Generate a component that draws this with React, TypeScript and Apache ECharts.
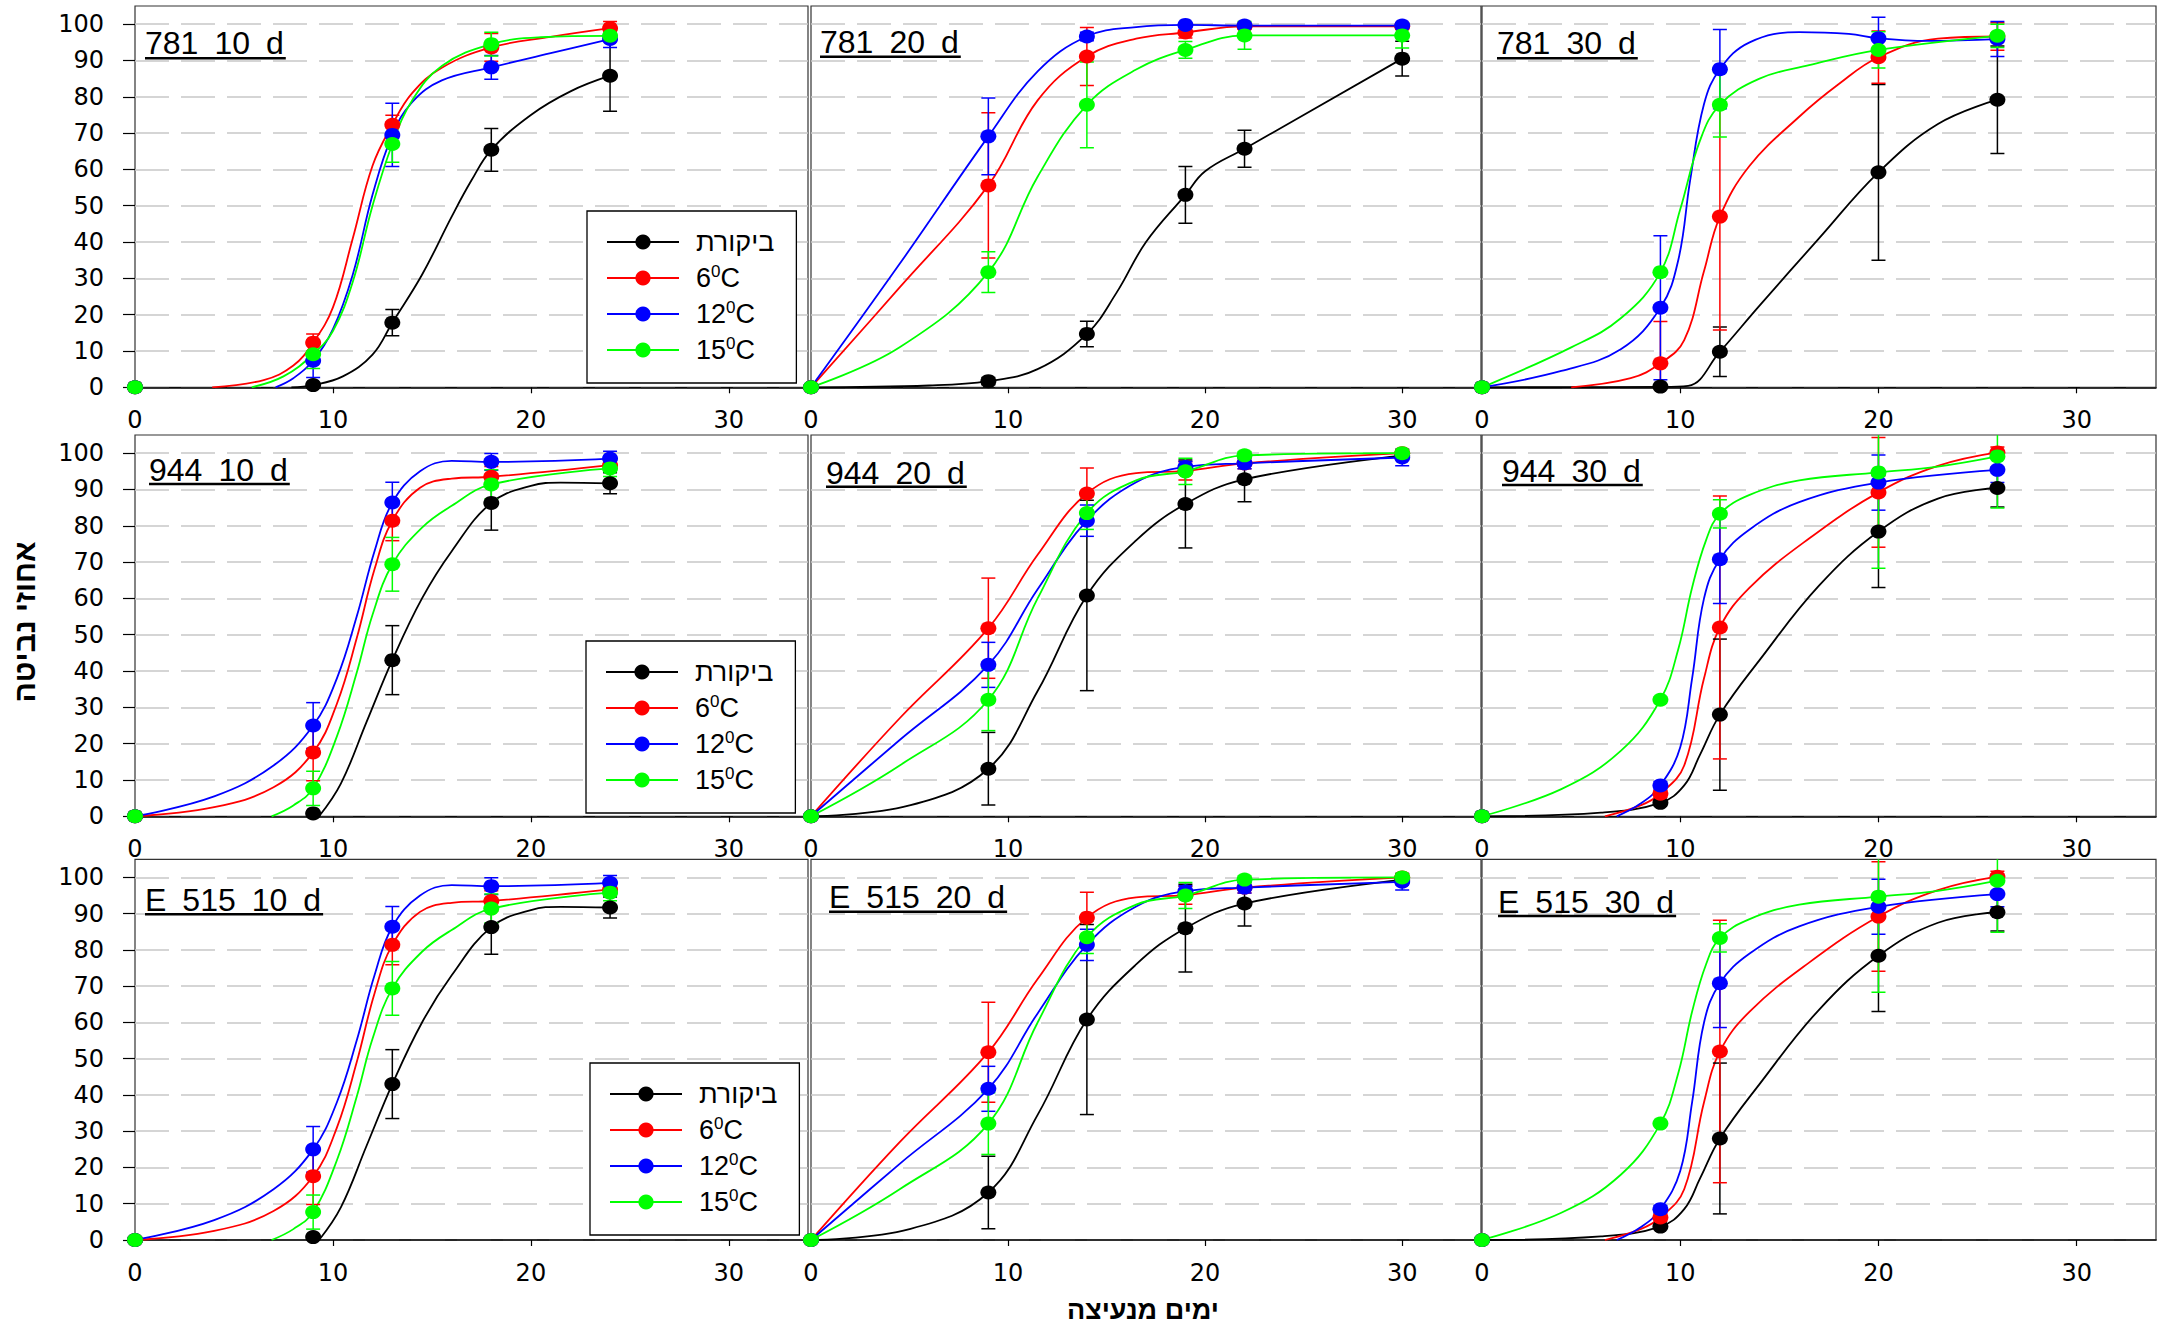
import React, { useEffect, useRef } from "react";
import * as echarts from "echarts";

const TEXT_FONT = '"Liberation Sans", Arimo, Arial, "DejaVu Sans", sans-serif';
const TICK_FONT = '"DejaVu Sans", Verdana, sans-serif';

// ---------- tick labels ----------
const X_TICKS = [0, 10, 20, 30];
const Y_TICKS = [0, 10, 20, 30, 40, 50, 60, 70, 80, 90, 100];

// ---------- treatments ----------
const TREATMENT_NAMES = ["ביקורת", "6C", "12C", "15C"];
const LEGEND_LABELS = ["ביקורת", "6{s|0}C", "12{s|0}C", "15{s|0}C"];
const COLORS = ["#000000", "#ff0000", "#0000ff", "#00ff00"];

// ---------- panel titles ----------
const PANEL_TITLES = [
  "781 10 d", "781 20 d", "781 30 d",
  "944 10 d", "944 20 d", "944 30 d",
  "E 515 10 d", "E 515 20 d", "E 515 30 d",
];
const X_TITLE = "ימים מנעיצה";
const Y_TITLE = "אחוזי נביטה";

// ---------- sampling days ----------
const DAYS_10D = [0, 9, 13, 18, 24];
const DAYS_20D = [0, 9, 14, 19, 22, 30];
const DAYS_30D = [0, 9, 12, 20, 26];

// ---------- 781 10 d ----------
const m781_10_ctrl = [0, 0.6, 17.8, 65.4, 85.8];
const m781_10_t6 = [0, 12.3, 72.3, 93.6, 98.9];
const m781_10_t12 = [0, 7.3, 69.5, 88.1, 95.9];
const m781_10_t15 = [0, 9.1, 67.0, 94.5, 96.8];
const e781_10_ctrl = [0, 0.6, 3.6, 5.9, 9.8];
const e781_10_t6 = [0, 2.4, 2.6, 3.8, 1.8];
const e781_10_t12 = [0, 4.6, 8.7, 3.3, 2.3];
const e781_10_t15 = [0, 3.9, 5.0, 3.3, 1.5];
const c781_10_ctrl = [[7.9, 0], [9, 0.6], [10.5, 3], [12, 9], [13, 17.8], [14.5, 31], [16, 47], [17, 57], [18, 65.4], [20, 75], [22, 81.5], [24, 85.8]];
const c781_10_t6 = [[3.9, 0], [6.5, 2], [8, 6], [9, 12.3], [10, 22], [11, 41], [12, 61], [13, 72.3], [14, 81], [15.5, 88], [18, 93.6], [21, 96.5], [24, 98.9]];
const c781_10_t12 = [[7.1, 0], [8, 2.5], [9, 7.3], [10, 16], [11, 31], [12, 53], [13, 69.5], [14, 78.5], [15.5, 84.5], [18, 88.1], [21, 92], [24, 95.9]];
const c781_10_t15 = [[5.9, 0], [7.5, 3], [9, 9.1], [10, 15.5], [11, 29], [12, 50], [13, 67], [14, 79], [15.5, 88.5], [18, 94.5], [20.5, 96.4], [24, 96.8]];

// ---------- 781 20 d ----------
const m781_20_ctrl = [0, 1.7, 14.7, 53.0, 65.7, 90.5];
const m781_20_t6 = [0, 55.6, 91.1, 97.7, 99.4, 99.4];
const m781_20_t12 = [0, 69.1, 96.6, 99.8, 99.6, 99.6];
const m781_20_t15 = [0, 31.7, 77.8, 92.9, 96.9, 96.9];
const e781_20_ctrl = [0, 1.0, 3.5, 7.8, 5.1, 4.8];
const e781_20_t6 = [0, 20.0, 8.0, 1.5, 0.8, 0.8];
const e781_20_t12 = [0, 10.6, 1.2, 0.6, 0.6, 0.6];
const e781_20_t15 = [0, 5.6, 11.8, 2.3, 3.8, 3.5];
const c781_20_ctrl = [[0, 0], [6, 0.5], [9, 1.7], [11.5, 5], [14, 14.7], [15.5, 26], [17, 40], [19, 53], [20, 59.5], [22, 65.7], [30, 90.5]];
const c781_20_t6 = [[0, 0], [4.5, 27.5], [9, 55.6], [11.5, 79], [14, 91.1], [16.5, 96], [19, 97.7], [22, 99.4], [30, 99.4]];
const c781_20_t12 = [[0, 0], [4.5, 34], [9, 69.1], [11.5, 87], [14, 96.6], [16.5, 99.2], [19, 99.8], [22, 99.6], [30, 99.6]];
const c781_20_t15 = [[0, 0], [4.5, 11], [9, 31.7], [11.5, 58], [14, 77.8], [16.5, 87.5], [19, 92.9], [22, 96.9], [30, 96.9]];

// ---------- 781 30 d ----------
const m781_30_ctrl = [0, 0.2, 9.8, 59.2, 79.2];
const m781_30_t6 = [0, 6.6, 47.0, 90.9, 96.6];
const m781_30_t12 = [0, 21.9, 87.6, 96.1, 95.9];
const m781_30_t15 = [0, 31.7, 77.8, 92.9, 96.8];
const e781_30_ctrl = [0, 0.3, 6.8, 24.2, 14.8];
const e781_30_t6 = [0, 11.5, 31.2, 7.2, 3.8];
const e781_30_t12 = [0, 19.8, 10.9, 5.8, 4.8];
const e781_30_t15 = [0, 0, 8.9, 5.0, 3.2];
const c781_30_ctrl = [[0, 0], [9, 0.1], [10.4, 0.4], [12, 9.8], [14, 22.5], [17, 41], [20, 59.2], [23, 72.5], [26, 79.2]];
const c781_30_t6 = [[4.5, 0], [7.5, 2.5], [9, 6.6], [10.2, 13], [11.2, 32], [12, 47], [13.5, 61], [16, 74.5], [18, 83.5], [20, 90.9], [23, 96], [26, 96.6]];
const c781_30_t12 = [[0, 0], [4, 4.5], [7, 10.5], [9, 21.9], [9.9, 35], [10.5, 57], [11.2, 78], [12, 87.6], [13.5, 95], [16, 97.8], [18.5, 97.3], [20, 96.1], [22.5, 95.4], [26, 95.9]];
const c781_30_t15 = [[0, 0], [4.5, 11], [7, 19], [9, 31.7], [10, 49], [11, 68], [12, 77.8], [14, 85], [16.5, 88.7], [20, 92.9], [26, 96.8]];

// ---------- 944 10 d (E 515 10 d reads the same) ----------
const m944_10_ctrl = [0, 0.8, 43.0, 86.3, 91.7];
const m944_10_t6 = [0, 17.6, 81.4, 93.5, 96.7];
const m944_10_t12 = [0, 25.0, 86.4, 97.6, 98.5];
const m944_10_t15 = [0, 7.7, 69.4, 91.4, 95.8];
const e944_10_ctrl = [0, 0.6, 9.5, 7.5, 2.9];
const e944_10_t6 = [0, 7.8, 5.5, 2.8, 1.5];
const e944_10_t12 = [0, 6.3, 5.6, 2.3, 2.0];
const e944_10_t15 = [0, 4.7, 7.4, 4.0, 2.2];
const c944_10_ctrl = [[9.3, 0], [10.4, 9], [11.7, 26], [13, 43], [14.5, 60], [16, 73], [18, 86.3], [20, 91], [21.5, 91.9], [24, 91.7]];
const c944_10_t6 = [[0, 0], [4, 2.5], [7, 8], [9, 17.6], [10.2, 31], [11.2, 49], [12.1, 68], [13, 81.4], [14.4, 90.5], [16, 93], [18, 93.5], [24, 96.7]];
const c944_10_t12 = [[0, 0], [4, 5.5], [7, 14], [9, 25], [10.2, 38], [11.2, 55], [12.1, 73], [13, 86.4], [14.4, 95], [16, 97.9], [18, 97.6], [24, 98.5]];
const c944_10_t15 = [[6.9, 0], [8, 3], [9, 7.7], [10.2, 22], [11.2, 39.5], [12, 55.5], [13, 69.4], [14.5, 79.5], [16, 85.5], [18, 91.4], [24, 95.8]];

// ---------- 944 20 d (E 515 20 d reads the same) ----------
const m944_20_ctrl = [0, 13.1, 60.8, 86.0, 92.8, 99.3];
const m944_20_t6 = [0, 51.8, 88.9, 95.1, 97.2, 100];
const m944_20_t12 = [0, 41.7, 81.4, 96.2, 97.2, 98.8];
const m944_20_t15 = [0, 32.1, 83.5, 95.0, 99.4, 100];
const e944_20_ctrl = [0, 10.0, 26.2, 12.1, 6.2, 1.0];
const e944_20_t6 = [0, 13.8, 7.0, 2.5, 1.5, 1.0];
const e944_20_t12 = [0, 6.2, 4.3, 1.5, 1.5, 2.3];
const e944_20_t15 = [0, 8.5, 4.5, 3.6, 1.0, 1.0];
const c944_20_ctrl = [[0, 0], [5, 3], [9, 13.1], [11.5, 34.5], [14, 60.8], [16.5, 76], [19, 86], [22, 92.8], [30, 99.3]];
const c944_20_t6 = [[0, 0], [4.5, 27], [9, 51.8], [11.5, 72], [14, 88.9], [16.5, 94.5], [19, 95.1], [22, 97.2], [30, 100]];
const c944_20_t12 = [[0, 0], [4.5, 21], [9, 41.7], [11.5, 62.5], [14, 81.4], [16.5, 92], [19, 96.2], [22, 97.2], [30, 98.8]];
const c944_20_t15 = [[0, 0], [4.5, 14], [9, 32.1], [11.5, 60], [14, 83.5], [16.5, 92.5], [19, 95], [22, 99.4], [30, 100]];

// ---------- 944 30 d (E 515 30 d reads the same) ----------
const m944_30_ctrl = [0, 3.7, 28.0, 78.4, 90.4];
const m944_30_t6 = [0, 6.2, 52.0, 89.2, 100.2];
const m944_30_t12 = [0, 8.5, 70.8, 91.9, 95.4];
const m944_30_t15 = [0, 32.1, 83.3, 94.7, 99.1];
const e944_30_ctrl = [0, 0.5, 20.8, 15.4, 5.2];
const e944_30_t6 = [0, 1.0, 36.2, 15.1, 1.5];
const e944_30_t12 = [0, 1.0, 12.2, 7.6, 3.5];
const e944_30_t15 = [0, 0, 3.9, 26.4, 14.2];
const c944_30_ctrl = [[0, 0], [6, 1], [9, 3.7], [10.2, 8.5], [11, 17], [12, 28], [14, 43], [17, 63.5], [20, 78.4], [23, 87.5], [26, 90.4]];
const c944_30_t6 = [[6.2, 0], [8, 3], [9, 6.2], [10.2, 14], [11.2, 38], [12, 52], [13.5, 63], [16.5, 76.5], [20, 89.2], [23, 96.5], [26, 100.2]];
const c944_30_t12 = [[6.8, 0], [8, 3.5], [9, 8.5], [10, 19], [10.6, 38], [11.2, 60], [12, 70.8], [13.5, 79], [16, 86.5], [20, 91.9], [26, 95.4]];
const c944_30_t15 = [[0, 0], [4, 7.5], [7, 18], [9, 32.1], [9.9, 46], [10.6, 63], [11.3, 76], [12, 83.3], [13.5, 88.5], [16, 92.5], [20, 94.7], [23, 96.3], [26, 99.1]];

type Panel = { title: string; days: number[]; means: number[][]; errs: number[][]; curves: number[][][] };

const P781_10 = { days: DAYS_10D, means: [m781_10_ctrl, m781_10_t6, m781_10_t12, m781_10_t15], errs: [e781_10_ctrl, e781_10_t6, e781_10_t12, e781_10_t15], curves: [c781_10_ctrl, c781_10_t6, c781_10_t12, c781_10_t15] };
const P781_20 = { days: DAYS_20D, means: [m781_20_ctrl, m781_20_t6, m781_20_t12, m781_20_t15], errs: [e781_20_ctrl, e781_20_t6, e781_20_t12, e781_20_t15], curves: [c781_20_ctrl, c781_20_t6, c781_20_t12, c781_20_t15] };
const P781_30 = { days: DAYS_30D, means: [m781_30_ctrl, m781_30_t6, m781_30_t12, m781_30_t15], errs: [e781_30_ctrl, e781_30_t6, e781_30_t12, e781_30_t15], curves: [c781_30_ctrl, c781_30_t6, c781_30_t12, c781_30_t15] };
const P944_10 = { days: DAYS_10D, means: [m944_10_ctrl, m944_10_t6, m944_10_t12, m944_10_t15], errs: [e944_10_ctrl, e944_10_t6, e944_10_t12, e944_10_t15], curves: [c944_10_ctrl, c944_10_t6, c944_10_t12, c944_10_t15] };
const P944_20 = { days: DAYS_20D, means: [m944_20_ctrl, m944_20_t6, m944_20_t12, m944_20_t15], errs: [e944_20_ctrl, e944_20_t6, e944_20_t12, e944_20_t15], curves: [c944_20_ctrl, c944_20_t6, c944_20_t12, c944_20_t15] };
const P944_30 = { days: DAYS_30D, means: [m944_30_ctrl, m944_30_t6, m944_30_t12, m944_30_t15], errs: [e944_30_ctrl, e944_30_t6, e944_30_t12, e944_30_t15], curves: [c944_30_ctrl, c944_30_t6, c944_30_t12, c944_30_t15] };

const PANELS: Panel[] = [
  { title: PANEL_TITLES[0], ...P781_10 },
  { title: PANEL_TITLES[1], ...P781_20 },
  { title: PANEL_TITLES[2], ...P781_30 },
  { title: PANEL_TITLES[3], ...P944_10 },
  { title: PANEL_TITLES[4], ...P944_20 },
  { title: PANEL_TITLES[5], ...P944_30 },
  { title: PANEL_TITLES[6], ...P944_10 },
  { title: PANEL_TITLES[7], ...P944_20 },
  { title: PANEL_TITLES[8], ...P944_30 },
];

// ---------- layout (pixels) ----------
const GRID_LEFT = [135, 811, 1482];
const GRID_WIDTH = [673, 670, 674];
const GRID_TOP = [6, 435, 859.3];
const GRID_HEIGHT = [381.3, 381.3, 380.7];
const TITLE_POS = [
  [145, 43, 58.3], [820, 41.5, 56.7], [1497, 43, 58.3],
  [149, 469.5, 484], [826, 472.5, 486.7], [1502, 470.5, 485],
  [145, 899.5, 914.3], [829, 896.5, 911.7], [1498, 901.5, 916],
];
const LEGEND_POS = [[587, 211], [586, 641], [590, 1063]];

function measure(text: string, font: string): number {
  const ctx = document.createElement("canvas").getContext("2d");
  if (!ctx) return text.length * 16;
  ctx.font = font;
  return ctx.measureText(text).width;
}

function errorRender(color: string) {
  return (_params: any, api: any) => {
    const x = api.value(0);
    const y = api.value(1);
    const e = api.value(2);
    if (!(e > 0)) return { type: "group", children: [] };
    const hi = api.coord([x, y + e]);
    const lo = api.coord([x, y - e]);
    const hw = 7;
    const style = { stroke: color, lineWidth: 1.5 };
    return {
      type: "group",
      children: [
        { type: "line", shape: { x1: hi[0], y1: hi[1], x2: lo[0], y2: lo[1] }, style },
        { type: "line", shape: { x1: hi[0] - hw, y1: hi[1], x2: hi[0] + hw, y2: hi[1] }, style },
        { type: "line", shape: { x1: lo[0] - hw, y1: lo[1], x2: lo[0] + hw, y2: lo[1] }, style },
      ],
    };
  };
}

function buildOption() {
  const grids: any[] = [];
  const xAxes: any[] = [];
  const yAxes: any[] = [];
  const lines: any[] = [];
  const bars: any[] = [];
  const dots: any[] = [];
  const graphics: any[] = [];

  PANELS.forEach((p, i) => {
    const r = Math.floor(i / 3);
    const c = i % 3;
    grids.push({
      left: GRID_LEFT[c], top: GRID_TOP[r], width: GRID_WIDTH[c], height: GRID_HEIGHT[r],
      show: true, borderColor: "#333", borderWidth: 1.2, backgroundColor: "transparent",
    });
    xAxes.push({
      gridIndex: i, type: "value", min: 0, max: 34, interval: 10,
      axisLine: { show: true, onZero: false, lineStyle: { color: "#000", width: 1.5 } },
      axisTick: { show: true, length: 6, customValues: X_TICKS, lineStyle: { color: "#000", width: 1.2 } },
      axisLabel: {
        show: true, margin: 21, fontSize: 24, fontFamily: TICK_FONT, color: "#000", customValues: X_TICKS,
        formatter: (v: number) => (X_TICKS.includes(v) ? String(v) : ""),
      },
      splitLine: { show: false },
    });
    yAxes.push({
      gridIndex: i, type: "value", min: 0, max: 105, interval: 10,
      axisLine: { show: false },
      axisTick: { show: c === 0, length: 12, customValues: Y_TICKS, lineStyle: { color: "#000", width: 1.2 } },
      axisLabel: {
        show: c === 0, margin: 31, fontSize: 24, fontFamily: TICK_FONT, color: "#000", customValues: Y_TICKS,
        formatter: (v: number) => (Y_TICKS.includes(v) ? String(v) : ""),
      },
      splitLine: { show: true, lineStyle: { color: "#c8c8c8", width: 1.6, type: [34, 12] } },
    });

    TREATMENT_NAMES.forEach((name, t) => {
      const color = COLORS[t];
      lines.push({
        type: "line", name, xAxisIndex: i, yAxisIndex: i, data: p.curves[t],
        smooth: 0.4, symbol: "circle", symbolSize: 15, showSymbol: false,
        lineStyle: { color, width: 1.8 }, itemStyle: { color }, z: 2, silent: true, clip: true,
      });
      bars.push({
        type: "custom", name, xAxisIndex: i, yAxisIndex: i,
        data: p.days.map((d, k) => [d, p.means[t][k], p.errs[t][k]]),
        encode: { x: 0, y: 1 }, renderItem: errorRender(color), clip: true, z: 3, silent: true,
      });
      dots.push({
        type: "scatter", name, xAxisIndex: i, yAxisIndex: i,
        data: p.days.map((d, k) => [d, p.means[t][k]]),
        symbol: "circle", symbolSize: [16, 14], itemStyle: { color, opacity: 1 }, z: 4, clip: false, silent: true,
      });
    });

    const title = p.title.replace(/ /g, "\u2002");
    const font = `32px ${TEXT_FONT}`;
    const w = measure(title, font);
    const [tx, ty, uy] = TITLE_POS[i];
    graphics.push({
      type: "text", x: tx, y: ty, z: 20,
      style: {
        text: title, fontSize: 32, fontFamily: TEXT_FONT, fill: "#000",
        align: "left", verticalAlign: "middle", textAlign: "left", textVerticalAlign: "middle",
      },
    });
    graphics.push({
      type: "line", z: 20, shape: { x1: tx, y1: uy, x2: tx + w + 2, y2: uy },
      style: { stroke: "#000", lineWidth: 2.6 },
    });
  });

  graphics.push({
    type: "text", x: 24, y: 622, rotation: Math.PI / 2, z: 20,
    style: {
      text: Y_TITLE, fontSize: 30, fontWeight: "bold", fontFamily: TEXT_FONT, fill: "#000",
      align: "center", verticalAlign: "middle", textAlign: "center", textVerticalAlign: "middle",
    },
  });
  graphics.push({
    type: "text", x: 1143, y: 1310, z: 20,
    style: {
      text: X_TITLE, fontSize: 27, fontWeight: "bold", fontFamily: TEXT_FONT, fill: "#000",
      align: "center", verticalAlign: "middle", textAlign: "center", textVerticalAlign: "middle",
    },
  });

  const legends = LEGEND_POS.map(([lx, ly]) => ({
    data: TREATMENT_NAMES, selectedMode: false, orient: "vertical",
    left: lx, top: ly, padding: [16, 22, 18, 19], itemWidth: 72, itemHeight: 19, itemGap: 6,
    borderColor: "#000", borderWidth: 1.3, backgroundColor: "#fff", z: 10,
    formatter: (name: string) => LEGEND_LABELS[TREATMENT_NAMES.indexOf(name)],
    textStyle: {
      fontSize: 27, fontFamily: TEXT_FONT, color: "#000", lineHeight: 30, padding: [0, 0, 0, 12],
      rich: { s: { fontSize: 17, lineHeight: 10, verticalAlign: "top", fontFamily: TEXT_FONT, color: "#000" } },
    },
  }));

  return {
    animation: false,
    backgroundColor: "#fff",
    grid: grids,
    xAxis: xAxes,
    yAxis: yAxes,
    legend: legends,
    series: [...lines, ...bars, ...dots],
    graphic: graphics,
  };
}

export default function App() {
  const ref = useRef<HTMLDivElement>(null);
  useEffect(() => {
    if (!ref.current) return;
    const chart = echarts.init(ref.current, undefined, { renderer: "svg" });
    chart.setOption(buildOption() as any);
    return () => chart.dispose();
  }, []);
  return (
    <div
      ref={ref}
      style={{ position: "fixed", left: 0, top: 0, width: 2172, height: 1330, background: "#fff" }}
    />
  );
}
